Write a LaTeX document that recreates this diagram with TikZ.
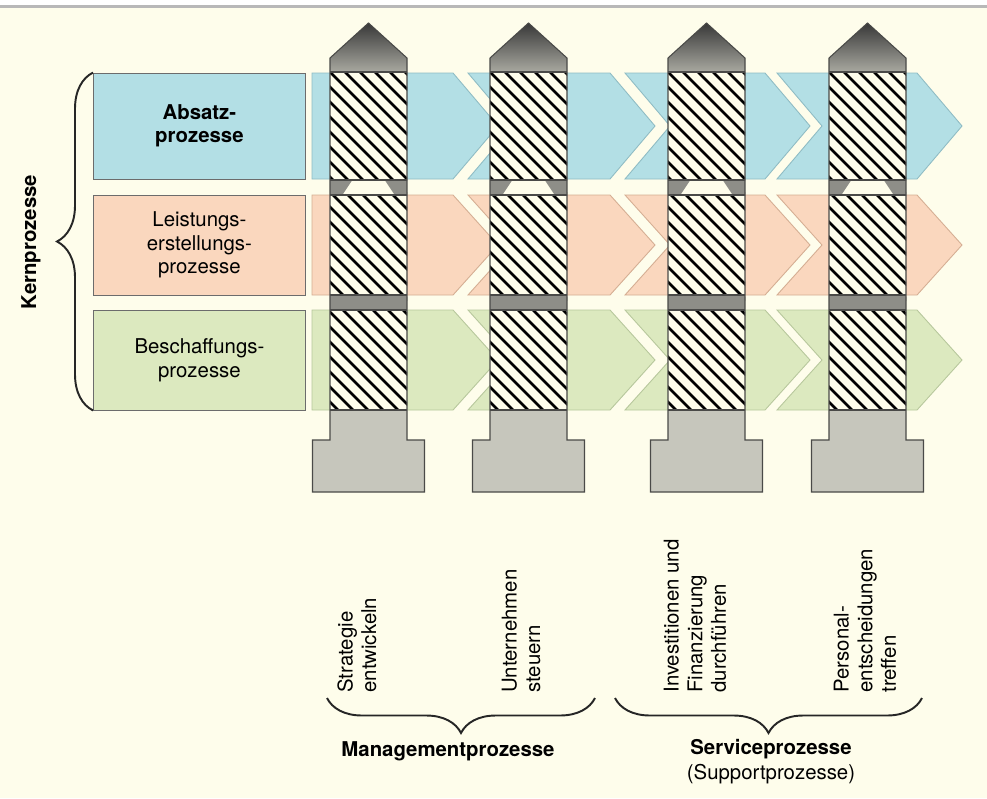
\documentclass[tikz,border=0pt]{standalone}
\usepackage{fontspec}
\setmainfont{TeX Gyre Heros}
\usetikzlibrary{calc,decorations.pathreplacing}

\definecolor{cream}{HTML}{FEFDEB}
\definecolor{absblue}{HTML}{B3DFE5}
\definecolor{absline}{HTML}{8FBCC4}
\definecolor{leipeach}{HTML}{FAD7BE}
\definecolor{leiline}{HTML}{D5AE93}
\definecolor{besgreen}{HTML}{DCE9BF}
\definecolor{besline}{HTML}{B7C79C}
\definecolor{bandgray}{HTML}{8E8E88}
\definecolor{basegray}{HTML}{C6C6BC}
\definecolor{edgegray}{HTML}{4A4A48}

\begin{document}
\begin{tikzpicture}[x=0.02cm, y=-0.02cm,
  txt/.style={font=\fontsize{11.6}{13.4}\selectfont, inner sep=0pt, align=center},
  bold/.style={font=\fontsize{11.6}{13.4}\selectfont\bfseries},
  rowbox/.style={txt, draw=gray!85!black, line width=0.5pt, minimum width=4.24cm, anchor=west},
  lbl/.style={txt, rotate=90, anchor=west, align=left},
  bracket/.style={decorate, decoration={brace, amplitude=#1}, line width=1.1pt, draw=black!85}]
  \useasboundingbox (0,0) rectangle (987,798);
  \fill[cream] (0,0) rectangle (987,798);
  \fill[white] (0,0) rectangle (987,5);
  \draw[black!28, line width=1.7pt] (0,6.5) -- (987,6.5);

  \node[rowbox, bold, fill=absblue, minimum height=2.12cm] (absatz) at (93,126) {Absatz-\\prozesse};
  \node[rowbox, fill=leipeach, minimum height=2cm] (leistung) at (93,245) {Leistungs-\\erstellungs-\\prozesse};
  \node[rowbox, fill=besgreen, minimum height=2cm] (beschaffung) at (93,360) {Beschaffungs-\\prozesse};

  \foreach \yt/\yb/\fc/\lc in {73/179/absblue/absline, 195/295/leipeach/leiline, 310/410/besgreen/besline} {
    \pgfmathsetmacro\ym{(\yt+\yb)/2}
    \foreach \xs/\d/\xe in {312/0/453, 468/45/610, 625/45/765, 777/45/917}
      \filldraw[fill=\fc, draw=\lc, line width=0.5pt] (\xs,\yt) -- (\xe,\yt) -- (\xe+45,\ym)
        -- (\xe,\yb) -- (\xs,\yb) -- (\xs+\d,\ym) -- cycle;
  }

  \foreach \c in {368.5, 528.5, 706.5, 867.5} {
    \pgfmathsetmacro\xl{\c-38.5}
    \pgfmathsetmacro\xr{\c+38.5}
    \shade[top color=black!78, bottom color=basegray!85!black] (\c,23) -- (\xr,58) -- (\xr,72) -- (\xl,72) -- (\xl,58) -- cycle;
    \fill[cream] (\xl,72) rectangle (\xr,410);
    \begin{scope}
      \clip (\xl,72) rectangle (\xr,410);
      \foreach \k in {-345,-330,...,90}
        \draw[line width=1.6pt] (\xl+\k,72) -- ++(338,338);
    \end{scope}
    \fill[bandgray] (\xl,180) rectangle (\xr,195);
    \fill[cream] (\c-16,180) -- (\c+16,180) -- (\c+26,195) -- (\c-26,195) -- cycle;
    \fill[bandgray] (\xl,295) rectangle (\xr,310);
    \fill[basegray] (\xl,410) -- (\xr,410) -- (\xr,440) -- (\c+56,440) -- (\c+56,492)
      -- (\c-56,492) -- (\c-56,440) -- (\xl,440) -- cycle;
    \draw[edgegray, line width=0.6pt] (\c,23) -- (\xr,58) -- (\xr,440) -- (\c+56,440) -- (\c+56,492)
      -- (\c-56,492) -- (\c-56,440) -- (\xl,440) -- (\xl,58) -- cycle;
    \draw[edgegray, line width=0.6pt] (\xl,72) -- (\xr,72) (\xl,180) -- (\xr,180) (\xl,195) -- (\xr,195)
      (\xl,295) -- (\xr,295) (\xl,310) -- (\xr,310) (\xl,410) -- (\xr,410);
  }

  \draw[bracket=0.72cm] (beschaffung.south west) -- (absatz.north west);
  \node[txt, bold, rotate=90] (kern) at (31,242) {Kernprozesse};

  \node[lbl] (strategie) at (357,693) {Strategie\\entwickeln};
  \node[lbl] (steuern) at (521,693) {Unternehmen\\steuern};
  \node[lbl] (invest) at (695,693) {Investitionen und\\Finanzierung\\durchführen};
  \node[lbl] (personal) at (865,693) {Personal-\\entscheidungen\\treffen};

  \coordinate (mgmtL) at (327,698);
  \coordinate (mgmtR) at (595,698);
  \coordinate (servL) at (615,698);
  \coordinate (servR) at (922,698);
  \draw[bracket=0.7cm] (mgmtR) -- (mgmtL);
  \draw[bracket=0.7cm] (servR) -- (servL);
  \node[txt, bold] (mgmt) at (448,751) {Managementprozesse};
  \node[txt, font=\fontsize{11.6}{14.2}\selectfont] (service) at (771,762) {\textbf{Serviceprozesse}\\(Supportprozesse)};
\end{tikzpicture}
\end{document}
